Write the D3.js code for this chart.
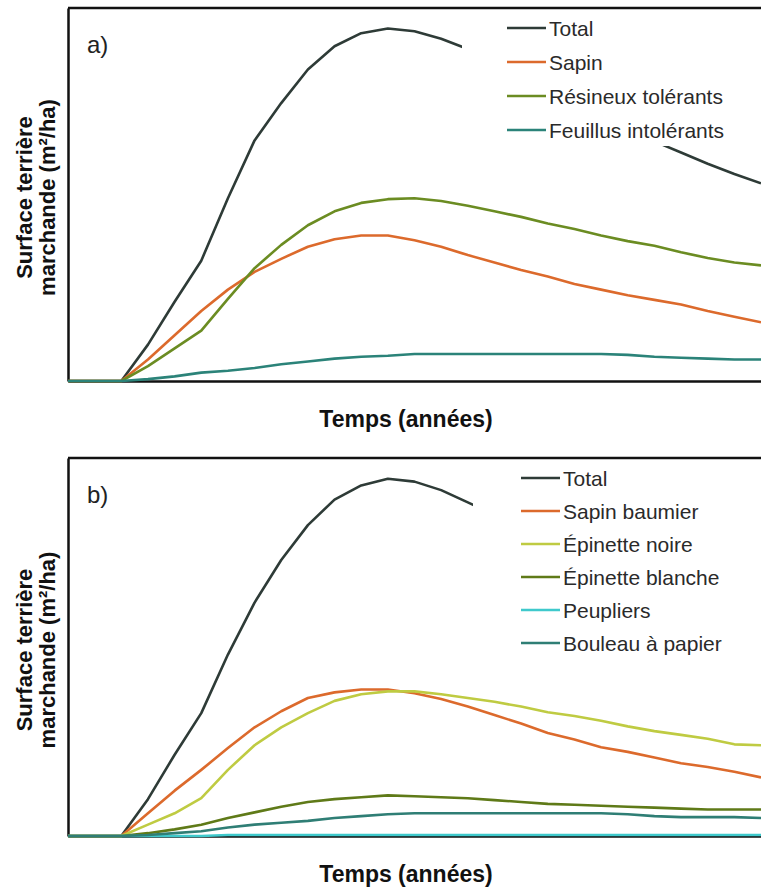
<!DOCTYPE html>
<html>
<head>
<meta charset="utf-8">
<script src="https://cdn.jsdelivr.net/npm/d3@7"></script>
<style>
  html, body { margin: 0; padding: 0; background: #fff; }
  svg { display: block; font-family: "Liberation Sans", Arial, sans-serif; }
</style>
</head>
<body>
<svg id="chart" width="761" height="890"></svg>
<script>
// time steps (years, arbitrary units - the original has no tick labels)
var years = [0, 5, 10, 15, 20, 25, 30, 35, 40, 45, 50, 55, 60, 65, 70, 75, 80, 85, 90, 95, 100, 105, 110, 115, 120, 125, 130];

// ---- panel a) values (m2/ha, read off the picture)
var totalA     = [0, 0, 0, 3.9, 8.5, 12.9, 19.6, 25.8, 29.8, 33.4, 35.9, 37.3, 37.8, 37.5, 36.7, 35.6, 34.2, 32.7, 31.2, 29.7, 28.3, 27.0, 25.7, 24.5, 23.3, 22.2, 21.2];
var sapinA     = [0, 0, 0, 2.3, 4.9, 7.5, 9.8, 11.7, 13.1, 14.4, 15.2, 15.6, 15.6, 15.1, 14.4, 13.5, 12.7, 11.9, 11.2, 10.4, 9.8, 9.2, 8.7, 8.2, 7.5, 6.9, 6.3];
var resineuxA  = [0, 0, 0, 1.6, 3.5, 5.4, 8.8, 12.1, 14.6, 16.7, 18.2, 19.1, 19.5, 19.6, 19.3, 18.8, 18.2, 17.6, 16.9, 16.3, 15.6, 15.0, 14.5, 13.8, 13.2, 12.7, 12.4];
var feuillusA  = [0, 0, 0, 0.2, 0.5, 0.9, 1.1, 1.4, 1.8, 2.1, 2.4, 2.6, 2.7, 2.9, 2.9, 2.9, 2.9, 2.9, 2.9, 2.9, 2.9, 2.8, 2.6, 2.5, 2.4, 2.3, 2.3];

// ---- panel b) values
var totalB     = [0, 0, 0, 3.9, 8.6, 13.0, 19.2, 24.7, 29.2, 32.9, 35.6, 37.1, 37.8, 37.5, 36.6, 35.3, 34.0, 32.6, 31.1, 29.6, 28.3, 26.9, 25.6, 24.3, 23.2, 22.1, 21.2];
var sapinB     = [0, 0, 0, 2.4, 4.8, 7.0, 9.3, 11.5, 13.2, 14.6, 15.2, 15.5, 15.5, 15.1, 14.5, 13.7, 12.8, 11.9, 10.9, 10.2, 9.4, 8.9, 8.3, 7.7, 7.3, 6.8, 6.2];
var noireB     = [0, 0, 0, 1.2, 2.4, 4.0, 7.0, 9.6, 11.5, 13.0, 14.3, 15.0, 15.3, 15.3, 15.0, 14.6, 14.2, 13.7, 13.1, 12.7, 12.2, 11.6, 11.1, 10.7, 10.3, 9.7, 9.6];
var blancheB   = [0, 0, 0, 0.3, 0.7, 1.2, 1.9, 2.5, 3.1, 3.6, 3.9, 4.1, 4.3, 4.2, 4.1, 4.0, 3.8, 3.6, 3.4, 3.3, 3.2, 3.1, 3.0, 2.9, 2.8, 2.8, 2.8];
var peupliersB = [0, 0, 0, 0, 0, 0, 0.1, 0.1, 0.1, 0.1, 0.1, 0.1, 0.1, 0.1, 0.1, 0.1, 0.1, 0.1, 0.1, 0.1, 0.1, 0.1, 0.1, 0.1, 0.1, 0.1, 0.1];
var bouleauB   = [0, 0, 0, 0.1, 0.3, 0.5, 0.9, 1.2, 1.4, 1.6, 1.9, 2.1, 2.3, 2.4, 2.4, 2.4, 2.4, 2.4, 2.4, 2.4, 2.4, 2.3, 2.1, 2.0, 2.0, 2.0, 1.9];

var labelsA = ["Total", "Sapin", "Résineux tolérants", "Feuillus intolérants"];
var labelsB = ["Total", "Sapin baumier", "Épinette noire", "Épinette blanche", "Peupliers", "Bouleau à papier"];

var C = {
	total: "#2e3b37",
	sapin: "#dc6a2c",
	resineux: "#6b8c22",
	feuillus: "#2b8379",
	noire: "#bfcb42",
	blanche: "#5f7a18",
	peupliers: "#3fc9cc",
	bouleau: "#2f7e75"
};

var svg = d3.select("#chart");
var left = 68, right = 761;

//-------------------------
function drawPanel(p) {
	var x = d3.scaleLinear().domain([0, 130]).range([left, right]);
	var y = d3.scaleLinear().domain([0, 40]).range([p.bottom, p.top]);
	var g = svg.append("g");

	// frame: top line, left axis, bottom axis (no ticks)
	g.append("line")
		.attr("x1", left).attr("x2", right + 5)
		.attr("y1", p.top).attr("y2", p.top)
		.attr("stroke", "#111").attr("stroke-width", 2.5);

	g.append("g")
		.attr("transform", "translate(" + left + ",0)")
		.call(d3.axisLeft(y).tickValues([]).tickSizeOuter(0))
		.select(".domain").attr("stroke", "#111").attr("stroke-width", 2.5);

	g.append("g")
		.attr("transform", "translate(0," + p.bottom + ")")
		.call(d3.axisBottom(x).tickValues([]).tickSizeOuter(0))
		.select(".domain").attr("stroke", "#111").attr("stroke-width", 2.5);

	var line = d3.line()
		.x(function (d, i) { return x(years[i]); })
		.y(function (d) { return y(d); });

	p.series.forEach(function (s) {
		g.append("path")
			.datum(s.values)
			.attr("fill", "none")
			.attr("stroke", s.color)
			.attr("stroke-width", 2.6)
			.attr("stroke-linejoin", "round")
			.attr("d", line);
	});

	// legend box hides part of the Total line
	var lg = g.append("g");
	lg.append("rect")
		.attr("x", p.legend.boxX).attr("y", p.top + 2)
		.attr("width", right - p.legend.boxX + 5).attr("height", p.legend.boxH)
		.attr("fill", "#fff");

	var row = lg.selectAll(".row")
		.data(p.series)
		.enter()
			.append("g")
			.attr("transform", function (d, i) { return "translate(0," + (p.legend.y0 + i * p.legend.dy) + ")"; });

	row.append("line")
		.attr("x1", p.legend.x).attr("x2", p.legend.x + 39)
		.attr("stroke", function (d) { return d.color; })
		.attr("stroke-width", 2.6);

	row.append("text")
		.attr("x", p.legend.x + 42)
		.attr("y", 7.5)
		.attr("font-size", 21)
		.attr("fill", "#2a2a2a")
		.text(function (d) { return d.label; });

	// panel letter
	g.append("text")
		.attr("x", 87).attr("y", p.top + 45)
		.attr("font-size", 24)
		.attr("fill", "#222")
		.text(p.letter);

	// axis titles
	var cy = (p.top + p.bottom) / 2 + 3;
	var yt = g.append("text")
		.attr("transform", "translate(32," + cy + ") rotate(-90)")
		.attr("text-anchor", "middle")
		.attr("font-size", 22)
		.attr("font-weight", "bold")
		.attr("fill", "#111");
	yt.append("tspan").attr("x", 0).attr("dy", 0).text("Surface terrière");
	yt.append("tspan").attr("x", 0).attr("dy", 23).text("marchande (m²/ha)");

	g.append("text")
		.attr("x", 406).attr("y", p.bottom + 46)
		.attr("text-anchor", "middle")
		.attr("font-size", 23)
		.attr("font-weight", "bold")
		.attr("fill", "#111")
		.text("Temps (années)");
}

drawPanel({
	letter: "a)",
	top: 8, bottom: 381,
	legend: { x: 507, y0: 28, dy: 34, boxX: 462, boxH: 136 },
	series: [
		{ label: labelsA[0], color: C.total, values: totalA },
		{ label: labelsA[1], color: C.sapin, values: sapinA },
		{ label: labelsA[2], color: C.resineux, values: resineuxA },
		{ label: labelsA[3], color: C.feuillus, values: feuillusA }
	]
});

drawPanel({
	letter: "b)",
	top: 458, bottom: 836,
	legend: { x: 521, y0: 478, dy: 33, boxX: 473, boxH: 200 },
	series: [
		{ label: labelsB[0], color: C.total, values: totalB },
		{ label: labelsB[1], color: C.sapin, values: sapinB },
		{ label: labelsB[2], color: C.noire, values: noireB },
		{ label: labelsB[3], color: C.blanche, values: blancheB },
		{ label: labelsB[4], color: C.peupliers, values: peupliersB },
		{ label: labelsB[5], color: C.bouleau, values: bouleauB }
	]
});
</script>
</body>
</html>
